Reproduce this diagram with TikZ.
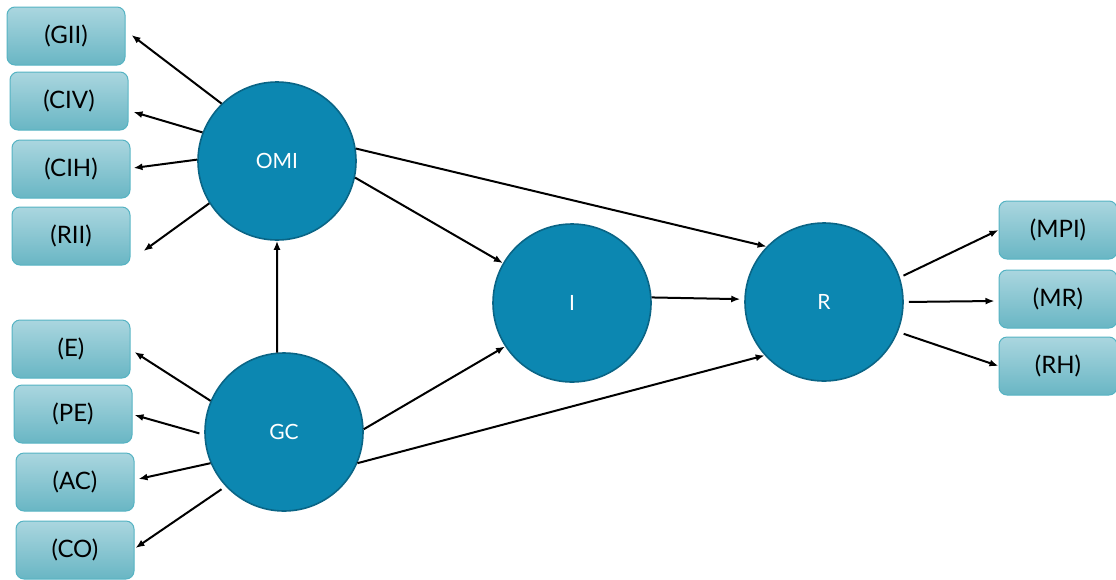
\documentclass[tikz,border=0pt]{standalone}
\usepackage{fontspec}
\setmainfont{Lato}
\usetikzlibrary{arrows.meta, positioning}

\definecolor{circfill}{HTML}{0C87B1}
\definecolor{circline}{HTML}{0A6586}
\definecolor{boxtop}{HTML}{AAD6DF}
\definecolor{boxbot}{HTML}{69B6C4}
\definecolor{boxline}{HTML}{55B3C3}

\begin{document}
\begin{tikzpicture}[x=1pt, y=-1pt,
		box/.style={draw=boxline, line width=1pt, rounded corners=8pt, top color=boxtop, bottom color=boxbot,
			minimum width=118pt, minimum height=58pt, inner sep=0pt, font=\fontsize{24}{28}\selectfont},
		construct/.style={circle, draw=circline, line width=1.6pt, fill=circfill, text=white,
			minimum size=158pt, inner sep=0pt, font=\fontsize{21}{25}\selectfont},
		arrow/.style={-{Latex[length=9pt, width=7pt]}, line width=2pt}
		]
		\useasboundingbox (0,0) rectangle (1116,579);
		
		% Constructs
		\node[construct] (omi) at (277,161) {OMI};
		\node[construct] (gc) at (284,432) {GC};
		\node[construct] (i) at (572,303) {I};
		\node[construct] (r) at (824,302) {R};
		
		% Indicators
		\node[box] (gii) at (66,36) {(GII)};
		\node[box] (civ) at (69,101) {(CIV)};
		\node[box] (cih) at (71,169) {(CIH)};
		\node[box] (rii) at (71,236) {(RII)};
		
		\node[box] (e) at (71,349) {(E)};
		\node[box] (pe) at (73,414) {(PE)};
		\node[box] (ac) at (75,482) {(AC)};
		\node[box] (co) at (75,550) {(CO)};
		
		\node[box] (mpi) at (1058,230) {(MPI)};
		\node[box, below=10pt of mpi] (mr) {(MR)};
		\node[box, below=8pt of mr] (rh) {(RH)};
		
		% Arrows
		\draw[arrow] (omi.134) -- ([shift={(6,-1)}]gii.east);
		\draw[arrow] (omi.159) -- ([shift={(5,11)}]civ.east);
		\draw[arrow] (omi.179) -- ([shift={(3,-1)}]cih.east);
		\draw[arrow] (omi.212) -- ([shift={(13,15)}]rii.east);
		
		\draw[arrow] (gc.157) -- ([shift={(4,3)}]e.east);
		\draw[arrow, shorten <=5pt] (gc.182) -- ([shift={(2,1)}]pe.east);
		\draw[arrow] (gc.203) -- ([shift={(4,-3)}]ac.east);
		\draw[arrow, shorten <=5pt] (gc.223) -- ([shift={(1,-2)}]co.east);
		
		\draw[arrow] (gc.95) -- (omi.south);
		\draw[arrow] (omi.9) -- (r.136);
		\draw[arrow] (omi.-12) -- (i.150);
		\draw[arrow] (gc.2) -- (i.213);
		\draw[arrow] (gc.-23) -- (r.222);
		\draw[arrow, shorten >=4pt] (i.4) -- (r.178);
		
		\draw[arrow, shorten <=4pt] (r.18) -- (mpi.west);
		\draw[arrow, shorten <=5pt] (r.east) -- ([shift={(-4,2)}]mr.west);
		\draw[arrow, shorten <=6pt] (r.-22) -- (rh.west);
		
	\end{tikzpicture}
\end{document}
